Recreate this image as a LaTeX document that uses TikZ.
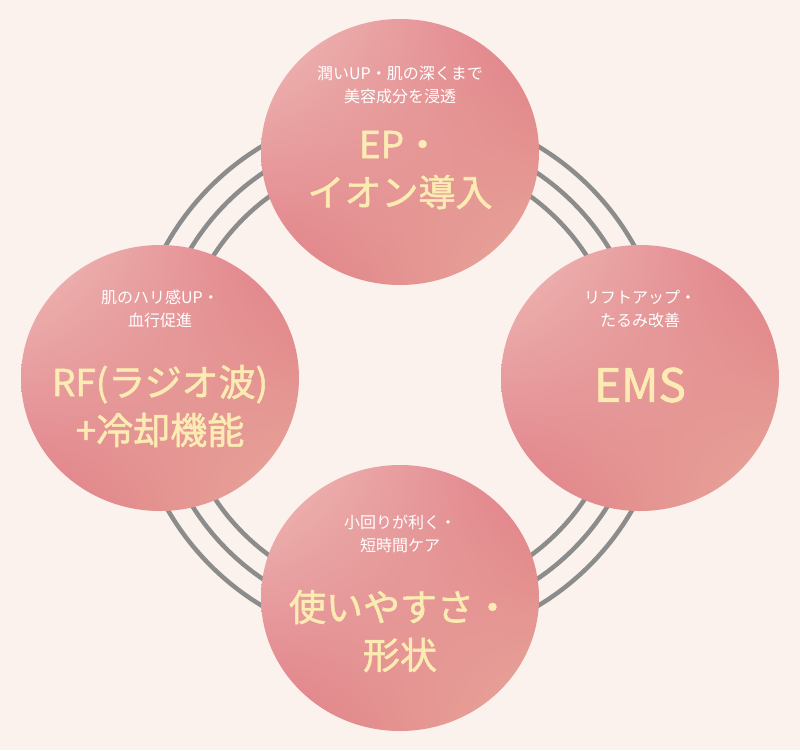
\documentclass[tikz,border=0pt]{standalone}
\usepackage{fontspec}
\usetikzlibrary{shadings}
\newfontfamily\jps{Noto Sans CJK JP}
\newfontfamily\jpb{Noto Sans CJK JP}[FakeBold=1.5]
\definecolor{bg}{HTML}{FBF2EE}
\definecolor{ln}{HTML}{8C8C8C}
\definecolor{cA}{HTML}{EFBDB8}
\definecolor{cB}{HTML}{E07C85}
\definecolor{cC}{HTML}{E8A99B}
\definecolor{cream}{HTML}{FCEBB3}
\begin{document}
\begin{tikzpicture}[x=1pt,y=-1pt,
  ring/.style={draw=ln,line width=4.5pt},
  ball/.style={upper left=cA,upper right=cB,lower left=cB,lower right=cC},
  small/.style={text=white,font=\jps\fontsize{16}{23}\selectfont,align=center},
  big/.style={text=cream,font=\jpb\fontsize{37}{48}\selectfont,align=center}]
\fill[bg] (0,0) rectangle (800,750);
\useasboundingbox (0,0) rectangle (800,750);
\coordinate (c) at (400,376);
\foreach \r in {222,245,268} \draw[ring] (c) circle[radius=\r];
\shade[ball] (400,152) ellipse[x radius=139,y radius=133];
\shade[ball] (160,378) ellipse[x radius=139,y radius=133];
\shade[ball] (640,378) ellipse[x radius=139,y radius=133];
\shade[ball] (400,598) ellipse[x radius=139,y radius=133];
\node[small] (t1) at (400,85) {潤いUP・肌の深くまで\\美容成分を浸透};
\node[big] (t2) at (400,170) {EP・\\イオン導入};
\node[small] (l1) at (160,309) {肌のハリ感UP・\\血行促進};
\node[big] (l2) at (160,406) {RF(ラジオ波)\\+冷却機能};
\node[small] (r1) at (640,309) {リフトアップ・\\たるみ改善};
\node[big,font=\jpb\fontsize{46}{50}\selectfont] (r2) at (640,385) {EMS};
\node[small] (b1) at (400,534) {小回りが利く・\\短時間ケア};
\node[big] (b2) at (400,631) {使いやすさ・\\形状};
\end{tikzpicture}
\end{document}
